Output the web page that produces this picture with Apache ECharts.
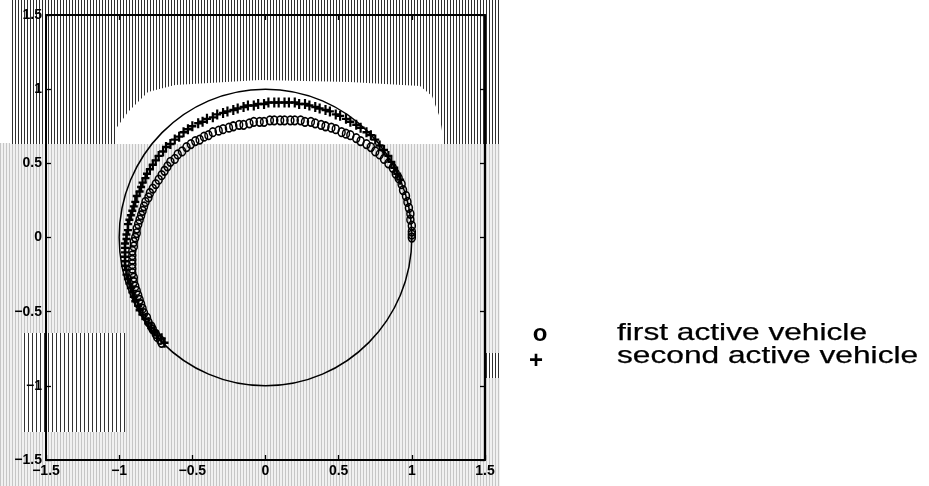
<!DOCTYPE html>
<html>
<head>
<meta charset="utf-8">
<script src="https://cdn.jsdelivr.net/npm/echarts@6/dist/echarts.min.js"></script>
<style>
  html, body { margin: 0; padding: 0; background: #fff; }
  #chart { width: 929px; height: 486px; }
</style>
</head>
<body>
<div id="chart"></div>
<script>
// Axis ticks shared by both axes
const tickValues = [-1.5, -1, -0.5, 0, 0.5, 1, 1.5];

// Reference circle: centre x, centre y, radius
const referenceCircle = [[0, 0, 1]];

// Trajectory of the first active vehicle (o)
const firstVehicle = [
  [1.00, 0.00], [1.00, 0.02], [1.00, 0.04], [1.00, 0.08], [0.99, 0.12], [0.99, 0.16], [0.98, 0.20],
  [0.97, 0.24], [0.96, 0.28], [0.94, 0.32], [0.93, 0.36], [0.91, 0.40], [0.89, 0.43], [0.87, 0.47],
  [0.84, 0.50], [0.81, 0.53], [0.78, 0.56], [0.75, 0.58], [0.72, 0.61], [0.69, 0.63], [0.65, 0.65],
  [0.62, 0.67], [0.58, 0.69], [0.55, 0.70], [0.52, 0.71], [0.48, 0.73], [0.45, 0.74], [0.41, 0.75],
  [0.38, 0.76], [0.34, 0.77], [0.31, 0.78], [0.27, 0.78], [0.24, 0.79], [0.20, 0.79], [0.17, 0.79],
  [0.13, 0.79], [0.10, 0.79], [0.06, 0.79], [0.03, 0.79], [-0.01, 0.78], [-0.04, 0.78], [-0.08, 0.78],
  [-0.11, 0.77], [-0.15, 0.76], [-0.18, 0.76], [-0.22, 0.75], [-0.25, 0.74], [-0.29, 0.73], [-0.32, 0.72],
  [-0.36, 0.71], [-0.39, 0.69], [-0.42, 0.68], [-0.45, 0.66], [-0.48, 0.65], [-0.51, 0.63], [-0.54, 0.61],
  [-0.57, 0.58], [-0.60, 0.56], [-0.62, 0.53], [-0.65, 0.51], [-0.67, 0.48], [-0.69, 0.45], [-0.71, 0.42],
  [-0.73, 0.39], [-0.75, 0.36], [-0.77, 0.33], [-0.79, 0.30], [-0.80, 0.27], [-0.82, 0.24], [-0.83, 0.21],
  [-0.84, 0.18], [-0.85, 0.15], [-0.86, 0.12], [-0.87, 0.09], [-0.88, 0.06], [-0.88, 0.03], [-0.89, 0.00],
  [-0.90, -0.03], [-0.90, -0.06], [-0.91, -0.09], [-0.91, -0.12], [-0.91, -0.15], [-0.91, -0.18],
  [-0.91, -0.21], [-0.91, -0.24], [-0.90, -0.27], [-0.90, -0.30], [-0.89, -0.33], [-0.88, -0.36],
  [-0.87, -0.39], [-0.86, -0.42], [-0.85, -0.45], [-0.84, -0.48], [-0.83, -0.51], [-0.81, -0.54],
  [-0.80, -0.57], [-0.78, -0.60], [-0.77, -0.62], [-0.75, -0.65], [-0.74, -0.67], [-0.72, -0.69],
  [-0.71, -0.71]
];

// Trajectory of the second active vehicle (+)
const secondVehicle = [
  [0.92, 0.39], [0.90, 0.43], [0.88, 0.47], [0.86, 0.51], [0.84, 0.55], [0.81, 0.59], [0.78, 0.62],
  [0.75, 0.66], [0.72, 0.69], [0.69, 0.71], [0.65, 0.74], [0.62, 0.76], [0.58, 0.78], [0.55, 0.80],
  [0.51, 0.82], [0.48, 0.83], [0.44, 0.85], [0.41, 0.86], [0.37, 0.87], [0.34, 0.88], [0.30, 0.89],
  [0.27, 0.90], [0.23, 0.90], [0.20, 0.91], [0.16, 0.91], [0.13, 0.91], [0.09, 0.91], [0.06, 0.91],
  [0.02, 0.91], [-0.01, 0.90], [-0.05, 0.90], [-0.08, 0.89], [-0.12, 0.89], [-0.15, 0.88], [-0.19, 0.87],
  [-0.22, 0.86], [-0.26, 0.85], [-0.29, 0.84], [-0.33, 0.83], [-0.36, 0.81], [-0.40, 0.80], [-0.43, 0.78],
  [-0.46, 0.77], [-0.50, 0.75], [-0.53, 0.73], [-0.56, 0.71], [-0.59, 0.68], [-0.62, 0.66], [-0.65, 0.63],
  [-0.68, 0.61], [-0.70, 0.58], [-0.73, 0.55], [-0.75, 0.52], [-0.77, 0.49], [-0.79, 0.46], [-0.81, 0.43],
  [-0.82, 0.40], [-0.84, 0.37], [-0.85, 0.34], [-0.86, 0.31], [-0.88, 0.28], [-0.89, 0.24], [-0.90, 0.21],
  [-0.91, 0.18], [-0.92, 0.15], [-0.93, 0.12], [-0.94, 0.09], [-0.94, 0.05], [-0.95, 0.02], [-0.95, -0.01],
  [-0.96, -0.04], [-0.96, -0.07], [-0.96, -0.10], [-0.96, -0.13], [-0.96, -0.16], [-0.96, -0.19],
  [-0.95, -0.22], [-0.95, -0.25], [-0.94, -0.28], [-0.93, -0.31], [-0.92, -0.34], [-0.91, -0.37],
  [-0.90, -0.40], [-0.89, -0.43], [-0.87, -0.46], [-0.86, -0.49], [-0.84, -0.52], [-0.82, -0.55],
  [-0.80, -0.58], [-0.78, -0.61], [-0.76, -0.63], [-0.74, -0.66], [-0.71, -0.68], [-0.69, -0.71]
];

// Key text
const keyMarks = ['o', '+'];
const keyLabels = ['first active vehicle', 'second active vehicle'];

const FONT = '"Liberation Sans", Arial, Helvetica, sans-serif';

// Vertical-line fill used for the printed page texture
function stripes(bg, fg, period, lineW) {
  const c = document.createElement('canvas');
  c.width = period; c.height = 4;
  const g = c.getContext('2d');
  if (bg) { g.fillStyle = bg; g.fillRect(0, 0, period, 4); }
  g.fillStyle = fg; g.fillRect(0, 0, lineW, 4);
  return { type: 'pattern', image: c, repeat: 'repeat' };
}
const lightTexture = stripes('#f1f1f1', '#c6c6c6', 3, 1);
const darkTexture = stripes('#ffffff', '#2e2e2e', 3, 1);
const sparseTexture = stripes('#ffffff', '#333333', 4, 1);

const PLUS = 'path://M2.9,0H5.1V3.8H8V6.2H5.1V10H2.9V6.2H0V3.8H2.9Z';

const lo = tickValues[0];
const hi = tickValues[tickValues.length - 1];
const step = tickValues[1] - tickValues[0];

function axisBase(pos, showLabel) {
  return {
    type: 'value', position: pos, min: lo, max: hi, interval: step,
    axisLine: { show: true, onZero: false, lineStyle: { color: '#000', width: 2 } },
    axisTick: { show: true, inside: true, length: 5, lineStyle: { color: '#000', width: 1.3 } },
    splitLine: { show: false },
    axisLabel: {
      show: showLabel, color: '#000', fontSize: 14, fontWeight: 'bold', fontFamily: FONT, margin: 4,
      formatter: function (v) { return String(v).replace('-', '\u2212'); }
    }
  };
}

const chart = echarts.init(document.getElementById('chart'), null, { renderer: 'canvas' });

chart.setOption({
  animation: false,
  backgroundColor: '#fff',
  grid: { left: 46, right: 444, top: 15, bottom: 26, containLabel: false },
  xAxis: [axisBase('bottom', true), axisBase('top', false)],
  yAxis: [axisBase('left', true), axisBase('right', false)],
  graphic: [
    { type: 'rect', z: -20, silent: true, shape: { x: 0, y: 143, width: 500, height: 343 }, style: { fill: lightTexture } },
    { type: 'rect', z: -20, silent: true, shape: { x: 10, y: 0, width: 490, height: 144 }, style: { fill: darkTexture } },
    {
      type: 'polygon', z: -19, silent: true,
      shape: { points: [[115, 144], [115, 130], [128, 112], [148, 92], [175, 85], [260, 80], [350, 82], [420, 86], [432, 96], [440, 118], [444, 144]] },
      style: { fill: '#fff' }
    },
    { type: 'rect', z: -19, silent: true, shape: { x: 22, y: 333, width: 103, height: 99 }, style: { fill: sparseTexture } },
    { type: 'rect', z: -19, silent: true, shape: { x: 485, y: 353, width: 15, height: 25 }, style: { fill: darkTexture } },
    {
      type: 'text', x: 540, y: 334, silent: true,
      style: { text: keyMarks[0], font: 'bold 24px ' + FONT, fill: '#000', align: 'center', verticalAlign: 'middle' }
    },
    {
      type: 'text', x: 536, y: 361, silent: true,
      style: { text: keyMarks[1], font: 'bold 24px ' + FONT, fill: '#000', align: 'center', verticalAlign: 'middle' }
    },
    {
      type: 'text', x: 617, y: 333, scaleX: 1.32, silent: true,
      style: { text: keyLabels[0], font: '24px ' + FONT, fill: '#000', stroke: '#000', lineWidth: 0.25, align: 'left', verticalAlign: 'middle' }
    },
    {
      type: 'text', x: 617, y: 356, scaleX: 1.32, silent: true,
      style: { text: keyLabels[1], font: '24px ' + FONT, fill: '#000', stroke: '#000', lineWidth: 0.25, align: 'left', verticalAlign: 'middle' }
    }
  ],
  series: [
    {
      name: 'reference circle',
      type: 'custom',
      data: referenceCircle,
      encode: { x: 0, y: 1 },
      clip: false,
      z: 3,
      renderItem: function (params, api) {
        const c = api.coord([api.value(0), api.value(1)]);
        const r = api.value(2);
        const sx = api.size([r, 0])[0];
        const sy = api.size([0, r])[1];
        return {
          type: 'ellipse',
          shape: { cx: c[0], cy: c[1], rx: sx, ry: sy },
          style: { fill: 'none', stroke: '#000', lineWidth: 1.5 }
        };
      }
    },
    {
      name: keyLabels[0],
      type: 'scatter',
      data: firstVehicle,
      symbol: 'circle',
      symbolSize: [7, 8.5],
      z: 4,
      itemStyle: { color: 'rgba(0,0,0,0)', borderColor: '#000', borderWidth: 1.6, opacity: 1 }
    },
    {
      name: keyLabels[1],
      type: 'scatter',
      data: secondVehicle,
      symbol: PLUS,
      symbolSize: [8, 10],
      z: 5,
      itemStyle: { color: '#000', opacity: 1 }
    }
  ]
});
</script>
</body>
</html>
